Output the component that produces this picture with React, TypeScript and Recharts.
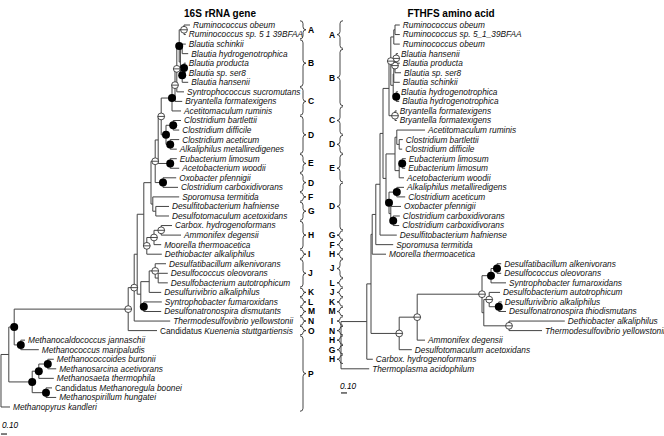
import { ScatterChart, Scatter, XAxis, YAxis, ReferenceLine } from 'recharts';

type NodeDef = [string, number, '' | 'f' | 'o', (number | string)[]];
type Group = [string, number, number];

// 16S rRNA gene tree (left)
const leftTaxa = [
    'Ruminococcus obeum', 'Ruminococcus sp. 5 1 39BFAA', 'Blautia schinkii', 'Blautia hydrogenotrophica',
    'Blautia producta', 'Blautia sp. ser8', 'Blautia hansenii', 'Syntrophococcus sucromutans',
    'Bryantella formatexigens', 'Acetitomaculum ruminis', 'Clostridium bartlettii', 'Clostridium difficile',
    'Clostridium aceticum', 'Alkaliphilus metalliredigenes', 'Eubacterium limosum', 'Acetobacterium woodii',
    'Oxobacter pfennigii', 'Clostridium carboxidivorans', 'Sporomusa termitida', 'Desulfitobacterium hafniense',
    'Desulfotomaculum acetoxidans', 'Carbox. hydrogenoformans', 'Ammonifex degensii', 'Moorella thermoacetica',
    'Dethiobacter alkaliphilus', 'Desulfatibacillum alkenivorans', 'Desulfococcus oleovorans',
    'Desulfobacterium autotrophicum', 'Desulfurivibrio alkaliphilus', 'Syntrophobacter fumaroxidans',
    'Desulfonatronospira dismutants', 'Thermodesulfovibrio yellowstonii', 'Candidatus Kuenenia stuttgartiensis',
    'Methanocaldococcus jannaschii', 'Methanococcus maripaludis', 'Methanococcoides burtonii',
    'Methanosarcina acetivorans', 'Methanosaeta thermophila', 'Candidatus Methanoregula boonei',
    'Methanospirillum hungatei', 'Methanopyrus kandleri',
];
const leftTipDepth = [
    3.15, 3.08, 3.08, 3.12, 3.08, 3.08, 3.12, 3.05, 3.02, 3.0, 3.0, 2.97, 2.97, 2.93, 2.93, 2.97,
    2.92, 2.95, 2.97, 2.8, 2.8, 2.85, 3.0, 2.67, 2.68, 2.75, 2.78, 2.78, 2.67, 2.68, 2.67, 2.82,
    2.6, 0.4, 0.63, 0.88, 0.92, 0.88, 0.85, 0.92, 0.15,
];
const leftNodes: NodeDef[] = [
    ['nA', 3.05, 'o', [0, 1]],
    ['nB0', 3.02, '', [2, 3]],
    ['nB1', 3.05, 'f', [4, 5]],
    ['nB2', 3.02, 'f', ['nB1', 6]],
    ['nB', 2.99, '', ['nB0', 'nB2']],
    ['nAB', 2.97, 'f', ['nA', 'nB']],
    ['n7', 2.93, 'o', ['nAB', 7]],
    ['n8', 2.9, 'o', ['n7', 8]],
    ['n9', 2.85, 'f', ['n8', 9]],
    ['nD1', 2.87, 'f', [10, 11]],
    ['nD2', 2.82, 'f', [12, 13]],
    ['nD', 2.75, 'f', ['nD1', 'nD2']],
    ['nC', 2.67, 'o', ['n9', 'nD']],
    ['nE', 2.82, 'f', [14, 15]],
    ['nCE', 2.62, '', ['nC', 'nE']],
    ['n16', 2.7, 'f', [16, 17]],
    ['nCl', 2.57, 'o', ['nCE', 'n16']],
    ['nG', 2.58, '', [19, 20]],
    ['nFG', 2.53, '', [18, 'nG']],
    ['nUp', 2.5, '', ['nCl', 'nFG']],
    ['nH1', 2.67, 'o', [21, 22]],
    ['nH', 2.55, 'o', ['nH1', 23]],
    ['nHI', 2.43, 'o', ['nH', 24]],
    ['nFirm', 2.38, '', ['nUp', 'nHI']],
    ['nJ1', 2.62, '', [26, 27]],
    ['nJ', 2.57, 'o', [25, 'nJ1']],
    ['nK', 2.47, '', ['nJ', 28]],
    ['nLM', 2.38, 'f', [29, 30]],
    ['nDel', 2.33, '', ['nK', 'nLM']],
    ['nU', 2.27, '', ['nFirm', 'nDel']],
    ['nBM', 2.22, 'o', ['nU', 31]],
    ['nBac', 2.12, 'o', ['nBM', 32]],
    ['nMc', 0.33, 'f', [33, 34]],
    ['nTop', 0.22, 'f', ['nBac', 'nMc']],
    ['nMs2', 0.78, 'f', [35, 36]],
    ['nMs', 0.63, 'f', ['nMs2', 37]],
    ['nMm', 0.75, 'f', [38, 39]],
    ['nMM', 0.52, 'f', ['nMs', 'nMm']],
    ['nAll', 0.13, '', ['nTop', 'nMM']],
    ['root', 0, '', ['nAll', 40]],
];
const leftGroups: Group[] = [
    ['A', 0, 1], ['B', 2, 6], ['C', 7, 9], ['D', 10, 13], ['E', 14, 15], ['D', 16, 17], ['F', 18, 18],
    ['G', 19, 20], ['H', 21, 23], ['I', 24, 24], ['J', 25, 27], ['K', 28, 28], ['L', 29, 29],
    ['M', 30, 30], ['N', 31, 31], ['O', 32, 32], ['P', 33, 40],
];

// FTHFS amino acid tree (right)
const rightTaxa = [
    'Ruminococcus obeum', 'Ruminococcus sp. 5_1_39BFAA', 'Ruminococcus obeum', 'Blautia hansenii',
    'Blautia producta', 'Blautia sp. ser8', 'Blautia schinkii', 'Blautia hydrogenotrophica',
    'Blautia hydrogenotrophica', 'Bryantella formatexigens', 'Bryantella formatexigens', 'Acetitomaculum ruminis',
    'Clostridium bartlettii', 'Clostridium difficile', 'Eubacterium limosum', 'Eubacterium limosum',
    'Acetobacterium woodii', 'Alkaliphilus metalliredigens', 'Clostridium aceticum', 'Oxobacter pfennigii',
    'Clostridium carboxidivorans', 'Clostridium carboxidivorans', 'Desulfitobacterium hafniense',
    'Sporomusa termitida', 'Moorella thermoacetica', 'Desulfatibacillum alkenivorans', 'Desulfococcus oleovorans',
    'Syntrophobacter fumaroxidans', 'Desulfobacterium autotrophicum', 'Desulfurivibrio alkaliphilus',
    'Desulfonatronospira thiodismutans', 'Dethiobacter alkaliphilus', 'Thermodesulfovibrio yellowstonii',
    'Ammonifex degensii', 'Desulfotomaculum acetoxidans', 'Carbox. hydrogenoformans', 'Thermoplasma acidophilum',
];
const rightTipDepth = [
    0.98, 0.98, 0.98, 0.95, 0.98, 1.0, 0.98, 0.95, 0.97, 0.93, 0.93, 1.4, 1.03, 1.02, 1.08, 1.07,
    1.05, 1.05, 1.07, 1.0, 0.98, 0.97, 0.93, 0.87, 0.75, 2.67, 2.67, 2.75, 2.65, 2.68, 2.75, 3.73,
    3.35, 1.4, 1.18, 0.53, 0.47,
];
const rightNodes: NodeDef[] = [
    ['rRum', 0.9, '', [0, 1]],
    ['rRum2', 0.88, '', ['rRum', 2]],
    ['rBl1', 0.92, 'o', [3, 4]],
    ['rBl2', 0.9, 'o', ['rBl1', 5]],
    ['rBl3', 0.88, '', ['rBl2', 6]],
    ['rBh', 0.92, 'f', [7, 8]],
    ['rBl', 0.87, '', ['rBl3', 'rBh']],
    ['rAB', 0.83, 'o', ['rRum2', 'rBl']],
    ['rBr', 0.9, 'o', [9, 10]],
    ['rABC', 0.8, '', ['rAB', 'rBr']],
    ['rAc1', 0.97, '', [12, 13]],
    ['rAc', 0.93, '', [11, 'rAc1']],
    ['rEu', 1.02, 'f', [14, 15]],
    ['rEA', 0.97, '', ['rEu', 16]],
    ['rAcE', 0.9, '', ['rAc', 'rEA']],
    ['rAl', 0.93, 'f', [17, 18]],
    ['rCc', 0.87, 'f', [20, 21]],
    ['rOx', 0.83, '', [19, 'rCc']],
    ['rAO', 0.8, 'f', ['rAl', 'rOx']],
    ['rDE', 0.75, '', ['rAcE', 'rAO']],
    ['rClo', 0.7, '', ['rABC', 'rDE']],
    ['rDs', 0.65, '', ['rClo', 22]],
    ['rSp', 0.58, '', ['rDs', 23]],
    ['rMo', 0.52, '', ['rSp', 24]],
    ['rDa', 2.6, 'f', [25, 26]],
    ['rSy', 2.5, 'f', ['rDa', 27]],
    ['rDv', 2.63, 'f', [29, 30]],
    ['rDb', 2.47, 'o', [28, 'rDv']],
    ['rDt', 2.8, 'o', [31, 32]],
    ['rDb2', 2.38, '', ['rDb', 'rDt']],
    ['rDel', 2.35, 'o', ['rSy', 'rDb2']],
    ['rAm', 1.27, 'o', ['rDel', 33]],
    ['rDm', 0.97, 'o', ['rAm', 34]],
    ['rR2', 0.5, '', ['rMo', 'rDm']],
    ['rR1', 0.43, '', ['rR2', 35]],
    ['root', 0, '', ['rR1', 36]],
];
const rightGroups: Group[] = [
    ['A', 0, 2], ['B', 3, 8], ['C', 9, 11], ['D', 12, 13], ['E', 14, 16], ['D', 17, 21], ['G', 22, 22],
    ['F', 23, 23], ['H', 24, 24], ['J', 25, 26], ['L', 27, 27], ['J', 28, 28], ['K', 29, 29],
    ['M', 30, 30], ['I', 31, 31], ['N', 32, 32], ['H', 33, 33], ['G', 34, 34], ['H', 35, 35],
];

const SCALE_BAR = 0.1;

const W = 664;
const H = 436;
const PX_PER_UNIT = 60;
const LEFT_ROOT_PX = 1;
const RIGHT_ROOT_PX = 341;
const Y_DOMAIN: [number, number] = [-2.618, 43.037];
const ROW_PX = H / (Y_DOMAIN[1] - Y_DOMAIN[0]);
const FONT = '"Liberation Sans", Arial, Helvetica, sans-serif';
const LINE = '#444';

function layout(tipDepth: number[], nodes: NodeDef[]) {
    const pos: Record<string, { x: number; y: number }> = {};
    const get = (c: number | string) => (typeof c === 'number' ? { x: tipDepth[c], y: c } : pos[c]);
    const segments: { x: number; y: number }[][] = [];
    const markers: { x: number; y: number; s: string }[] = [];
    nodes.forEach(([id, depth, s, kids]) => {
        const ks = kids.map(get);
        const y = (ks[0].y + ks[ks.length - 1].y) / 2;
        pos[id] = { x: depth, y };
        segments.push([{ x: depth, y: ks[0].y }, { x: depth, y: ks[ks.length - 1].y }]);
        ks.forEach(k => segments.push([{ x: depth, y: k.y }, { x: k.x, y: k.y }]));
        if (s) markers.push({ x: depth, y, s });
    });
    return { segments, markers };
}

const TipLabel = (p: any) => {
    const name: string = p.payload.name;
    const plain = name.startsWith('Candidatus ') ? 'Candidatus ' : '';
    return (
        <text x={p.cx + 3} y={p.cy} dy="0.35em" fontSize={8.3} fontFamily={FONT} fill="#111" style={{ whiteSpace: 'pre' }}>
            {plain && <tspan fontStyle="normal">{plain}</tspan>}
            <tspan fontStyle="italic">{name.slice(plain.length)}</tspan>
        </text>
    );
};

const Marker = (p: any) => {
    if (p.payload.s === 'f') return <circle cx={p.cx} cy={p.cy} r={4} fill="#000" />;
    return (
        <g>
            <circle cx={p.cx} cy={p.cy} r={3.4} fill="#fff" stroke="#222" strokeWidth={0.8} />
            <line x1={p.cx - 3.4} x2={p.cx + 3.4} y1={p.cy} y2={p.cy} stroke="#222" strokeWidth={0.8} />
        </g>
    );
};

const bracePath = (x0: number, cy: number, half: number, dir: number) => {
    const w = 6 * dir;
    const r = Math.min(3, half / 2);
    const xm = x0 + w / 2;
    const xt = x0 + w;
    return `M${x0},${cy - half} Q${xm},${cy - half} ${xm},${cy - half + r} L${xm},${cy - r} ` +
        `Q${xm},${cy} ${xt},${cy} Q${xm},${cy} ${xm},${cy + r} L${xm},${cy + half - r} Q${xm},${cy + half} ${x0},${cy + half}`;
};

const makeBrace = (side: 'L' | 'R') => (p: any) => {
    const half = (p.payload.span / 2 + 0.45) * ROW_PX;
    const x0 = side === 'L' ? 300 : 343;
    const dir = side === 'L' ? 1 : -1;
    return (
        <g>
            <path d={bracePath(x0, p.cy, half, dir)} fill="none" stroke="#333" strokeWidth={0.9} />
            <text x={side === 'L' ? 308 : 332} y={p.cy} dy="0.35em" textAnchor={side === 'L' ? 'start' : 'middle'}
                fontSize={8.5} fontWeight="bold" fontFamily={FONT} fill="#000">
                {p.payload.letter}
            </text>
        </g>
    );
};

const groupData = (groups: Group[]) =>
    groups.map(([letter, a, b]) => ({ x: 0, y: (a + b) / 2, span: b - a, letter }));

export default function App() {
    const L = layout(leftTipDepth, leftNodes);
    const R = layout(rightTipDepth, rightNodes);
    const leftTips = leftTaxa.map((name, i) => ({ x: leftTipDepth[i], y: i, name }));
    const rightTips = rightTaxa.map((name, i) => ({ x: rightTipDepth[i], y: i, name }));

    const titleStyle = { position: 'absolute' as const, top: 8, width: 140, textAlign: 'center' as const, fontFamily: FONT, fontWeight: 'bold', fontSize: 10, lineHeight: '12px' };
    const scaleStyle = { position: 'absolute' as const, fontFamily: FONT, fontStyle: 'italic', fontSize: 8.3, lineHeight: '10px' };

    return (
        <div style={{ position: 'absolute', left: 0, top: 0, width: W, height: H, background: '#fff' }}>
            <ScatterChart width={W} height={H} margin={{ top: 0, right: 0, bottom: 0, left: 0 }}>
                <XAxis xAxisId="L" type="number" dataKey="x" hide allowDataOverflow
                    domain={[-LEFT_ROOT_PX / PX_PER_UNIT, (W - LEFT_ROOT_PX) / PX_PER_UNIT]} />
                <XAxis xAxisId="R" type="number" dataKey="x" hide allowDataOverflow
                    domain={[-RIGHT_ROOT_PX / PX_PER_UNIT, (W - RIGHT_ROOT_PX) / PX_PER_UNIT]} />
                <YAxis yAxisId="Y" type="number" dataKey="y" hide allowDataOverflow reversed domain={Y_DOMAIN} />

                {L.segments.map((s, i) => (
                    <ReferenceLine key={`l${i}`} xAxisId="L" yAxisId="Y" segment={s} stroke={LINE} strokeWidth={1} ifOverflow="visible" />
                ))}
                {R.segments.map((s, i) => (
                    <ReferenceLine key={`r${i}`} xAxisId="R" yAxisId="Y" segment={s} stroke={LINE} strokeWidth={1} ifOverflow="visible" />
                ))}
                <ReferenceLine xAxisId="L" yAxisId="Y" segment={[{ x: 0, y: 42.83 }, { x: SCALE_BAR, y: 42.83 }]} stroke="#000" ifOverflow="visible" />
                <ReferenceLine xAxisId="R" yAxisId="Y" segment={[{ x: 0, y: 38.53 }, { x: SCALE_BAR, y: 38.53 }]} stroke="#000" ifOverflow="visible" />

                <Scatter xAxisId="L" yAxisId="Y" data={leftTips} shape={TipLabel} isAnimationActive={false} />
                <Scatter xAxisId="R" yAxisId="Y" data={rightTips} shape={TipLabel} isAnimationActive={false} />
                <Scatter xAxisId="L" yAxisId="Y" data={L.markers} shape={Marker} isAnimationActive={false} />
                <Scatter xAxisId="R" yAxisId="Y" data={R.markers} shape={Marker} isAnimationActive={false} />
                <Scatter xAxisId="L" yAxisId="Y" data={groupData(leftGroups)} shape={makeBrace('L')} isAnimationActive={false} />
                <Scatter xAxisId="R" yAxisId="Y" data={groupData(rightGroups)} shape={makeBrace('R')} isAnimationActive={false} />
            </ScatterChart>

            <div style={{ ...titleStyle, left: 150 }}>16S rRNA gene</div>
            <div style={{ ...titleStyle, left: 381 }}>FTHFS amino acid</div>
            <div style={{ ...scaleStyle, left: 2, top: 420 }}>{SCALE_BAR.toFixed(2)}</div>
            <div style={{ ...scaleStyle, left: 340, top: 381 }}>{SCALE_BAR.toFixed(2)}</div>
        </div>
    );
}
